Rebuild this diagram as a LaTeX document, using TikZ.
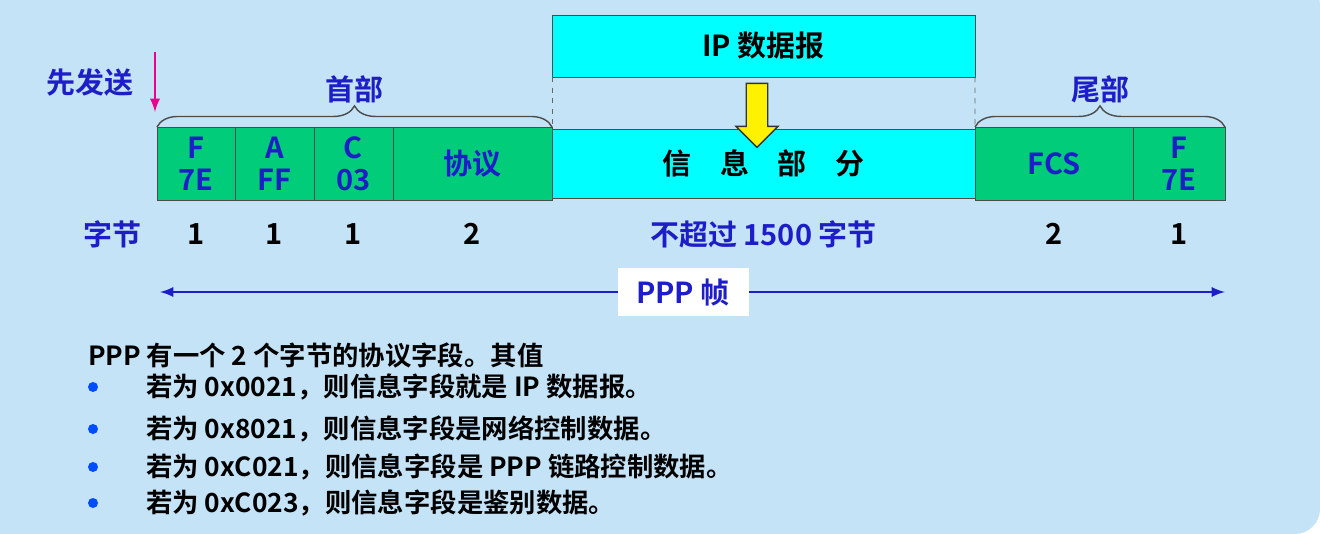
\documentclass[tikz,border=0pt]{standalone}
\usepackage{fontspec}
\setmainfont{Noto Sans CJK SC}[BoldFont={Noto Sans CJK SC Bold}]
\usetikzlibrary{positioning,decorations.pathreplacing,shapes.arrows}
\definecolor{bgblue}{HTML}{C5E3F6}
\definecolor{fgreen}{HTML}{00CC7A}
\definecolor{fcyan}{HTML}{00FFFF}
\definecolor{tblue}{HTML}{1E1EC8}
\tikzset{
 field/.style={draw=black!70, fill=fgreen, inner sep=0pt, outer sep=0pt, font=\bfseries\fontsize{16.5}{18}\selectfont, text=tblue, align=center},
 num/.style={font=\bfseries\fontsize{16.5}{18}\selectfont},
 lbl/.style={font=\bfseries\fontsize{16.5}{18}\selectfont, text=tblue},
 item/.style={font=\bfseries\fontsize{15}{17}\selectfont, anchor=west}
}
\begin{document}
\begin{tikzpicture}[x=0.02cm,y=-0.02cm]
 \useasboundingbox (0,0) rectangle (1320,534);
 %Background
 \fill[bgblue, rounded corners=0.5cm] (0,-20) rectangle (1320,534);
 \fill[bgblue] (0,0) rectangle (40,534);

 %IP datagram box
 \node[field, fill=fcyan, text=black, minimum width=423*0.02cm, minimum height=62*0.02cm, anchor=north west] (ip) at (552,15) {IP 数据报};
 \draw[dashed, black!60] (ip.south west) -- (552,127);
 \draw[dashed, black!60] (ip.south east) -- (975,127);

 %Frame fields
 \node[field, minimum width=78*0.02cm, minimum height=73*0.02cm, anchor=north west] (f1) at (157,127) {F\\7E};
 \node[field, minimum width=79*0.02cm, minimum height=73*0.02cm, right=0pt of f1] (f2) {A\\FF};
 \node[field, minimum width=79*0.02cm, minimum height=73*0.02cm, right=0pt of f2] (f3) {C\\03};
 \node[field, minimum width=159*0.02cm, minimum height=73*0.02cm, right=0pt of f3] (f4) {协议};
 \node[field, fill=fcyan, text=black, minimum width=423*0.02cm, minimum height=69*0.02cm, right=0pt of f4] (f5) {信\quad 息\quad 部\quad 分};
 \node[field, minimum width=158*0.02cm, minimum height=73*0.02cm, right=0pt of f5] (f6) {FCS};
 \node[field, minimum width=92*0.02cm, minimum height=73*0.02cm, right=0pt of f6] (f7) {F\\7E};

 %Yellow arrow
 \node[single arrow, draw=black!80, thick, fill=yellow, shape border rotate=270, minimum height=64*0.02cm, minimum width=42*0.02cm, single arrow head extend=0.08cm, inner sep=2pt] (ya) at (757,110) {};

 %Braces
 \draw[decorate, decoration={brace, amplitude=12pt}, black!70, thick] (f1.north west) -- (f4.north east) node[midway, above=10pt, lbl] (hdr) {首部};
 \draw[decorate, decoration={brace, amplitude=12pt}, black!70, thick] (f6.north west) -- (f7.north east) node[midway, above=10pt, lbl] (tlr) {尾部};

 %First sent
 \node[lbl] (first) at (90,82) {先发送};
 \coordinate (ms) at (155,52);
 \coordinate (me) at (155,112);
 \draw[->, magenta, line width=1.6pt, >=latex] (ms) -- (me);

 %Byte counts
 \node[lbl] (bytes) at (112,234) {字节};
 \foreach \f/\n in {f1/1,f2/1,f3/1,f4/2,f6/2,f7/1}
  \node[num] at (\f.center |- 0,234) {\n};
 \node[lbl] at (f5.center |- 0,234) {不超过 1500 字节};

 %PPP frame arrow
 \coordinate (al) at (160,292);
 \coordinate (ar) at (1225,292);
 \draw[<->, tblue, line width=1.6pt, >=latex] (al) -- (ar);
 \node[fill=white, lbl, minimum width=131*0.02cm, minimum height=48*0.02cm] (ppp) at (683,292) {PPP 帧};

 %Notes
 \node[item] (t0) at (82,355) {PPP 有一个 2 个字节的协议字段。其值};
 \foreach \y/\t in {387/{若为 0x0021，则信息字段就是 IP 数据报。},
                   429/{若为 0x8021，则信息字段是网络控制数据。},
                   467/{若为 0xC021，则信息字段是 PPP 链路控制数据。},
                   503/{若为 0xC023，则信息字段是鉴别数据。}}{
  \fill[blue!70!cyan] (93,\y) circle (0.1cm);
  \node[item] at (140,\y) {\t};
 }
\end{tikzpicture}
\end{document}
